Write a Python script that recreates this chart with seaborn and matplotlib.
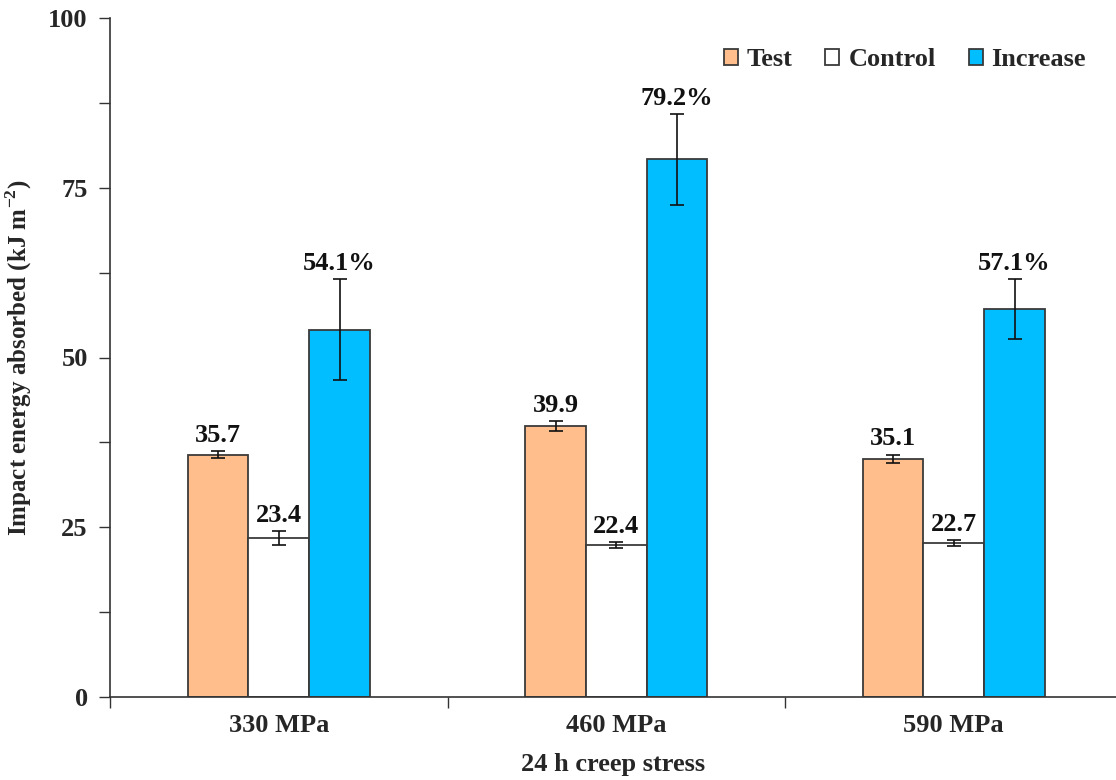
import matplotlib
matplotlib.use("Agg")
import matplotlib.pyplot as plt
import seaborn as sns
import pandas as pd
import numpy as np
from matplotlib.ticker import MultipleLocator

categories = ["330 MPa", "460 MPa", "590 MPa"]
groups = ["Test", "Control", "Increase"]
test_vals = [35.7, 39.9, 35.1]
control_vals = [23.4, 22.4, 22.7]
increase_vals = [54.1, 79.2, 57.1]
test_err = [0.55, 0.75, 0.6]
control_err = [1.0, 0.45, 0.4]
increase_err = [7.4, 6.7, 4.4]
test_labels = ["35.7", "39.9", "35.1"]
control_labels = ["23.4", "22.4", "22.7"]
increase_labels = ["54.1%", "79.2%", "57.1%"]
colors = ["#FFBE8C", "#FFFFFF", "#00BEFF"]

df = pd.DataFrame({
    "stress": categories * 3,
    "group": [g for g in groups for _ in categories],
    "value": test_vals + control_vals + increase_vals,
})
errs = [test_err, control_err, increase_err]
labels = [test_labels, control_labels, increase_labels]

FS = 19

sns.set_style("ticks")
plt.rcParams["font.family"] = ["Liberation Serif", "DejaVu Serif"]
plt.rcParams["font.weight"] = "bold"
plt.rcParams["mathtext.fontset"] = "custom"
plt.rcParams["mathtext.rm"] = "Liberation Serif:bold"
plt.rcParams["mathtext.bf"] = "Liberation Serif:bold"

fig = plt.figure(figsize=(11.16, 7.8), dpi=100)
ax = fig.add_axes([110 / 1116, 1 - 697 / 780, (1116 - 110) / 1116, (697 - 18) / 780])

sns.barplot(data=df, x="stress", y="value", hue="group", order=categories,
            hue_order=groups, palette=colors, saturation=1, width=0.54, gap=0,
            edgecolor="#3a3a3a", linewidth=1.3, errorbar=None, ax=ax)

for cont, e, labs in zip(ax.containers, errs, labels):
    for bar, err, lab in zip(cont, e, labs):
        xc = bar.get_x() + bar.get_width() / 2
        h = bar.get_height()
        ax.errorbar(xc, h, yerr=err, fmt="none", ecolor="#111111",
                    elinewidth=1.2, capsize=5, capthick=1.2, zorder=5)
        ax.annotate(lab, (xc, h + err), xytext=(0, 3), textcoords="offset points",
                    ha="center", va="bottom", fontsize=FS, fontweight="bold",
                    color="#111111")

ax.set_ylim(0, 100)
ax.set_xlim(-0.5, -0.5 + 1006 / 337.5)
ax.yaxis.set_major_locator(MultipleLocator(25))
ax.yaxis.set_minor_locator(MultipleLocator(12.5))
ax.set_xticks([0, 1, 2])
ax.set_xticklabels(categories, fontsize=FS, fontweight="bold")
ax.set_xticks([-0.5, 0.5, 1.5], minor=True)
ax.tick_params(axis="x", which="major", length=0, pad=12)
ax.tick_params(axis="x", which="minor", length=8, width=1, direction="out", color="#333333")
ax.tick_params(axis="y", which="both", length=8, width=1, direction="out",
               color="#333333", labelsize=FS, pad=8)
for t in ax.get_yticklabels():
    t.set_fontweight("bold")

ax.set_xlabel("24 h creep stress", fontsize=FS, fontweight="bold", labelpad=12)
ax.set_ylabel("Impact energy absorbed (kJ m$^{-2}$)", fontsize=18,
              fontweight="bold")
ax.yaxis.set_label_coords(-0.076, 0.5)

for s in ["top", "right"]:
    ax.spines[s].set_visible(False)
for s in ["left", "bottom"]:
    ax.spines[s].set_color("#333333")
    ax.spines[s].set_linewidth(1.2)

handles, labs = ax.get_legend_handles_labels()
ax.legend(handles, labs, ncol=3, frameon=False, loc="center right",
          bbox_to_anchor=(1086 / 1116, 1 - 60 / 780), bbox_transform=fig.transFigure,
          borderaxespad=0, borderpad=0, handlelength=0.53, handleheight=0.53,
          handletextpad=0.34, columnspacing=1.25,
          prop={"size": FS, "weight": "bold"})

fig.savefig("out.png", dpi=100)
